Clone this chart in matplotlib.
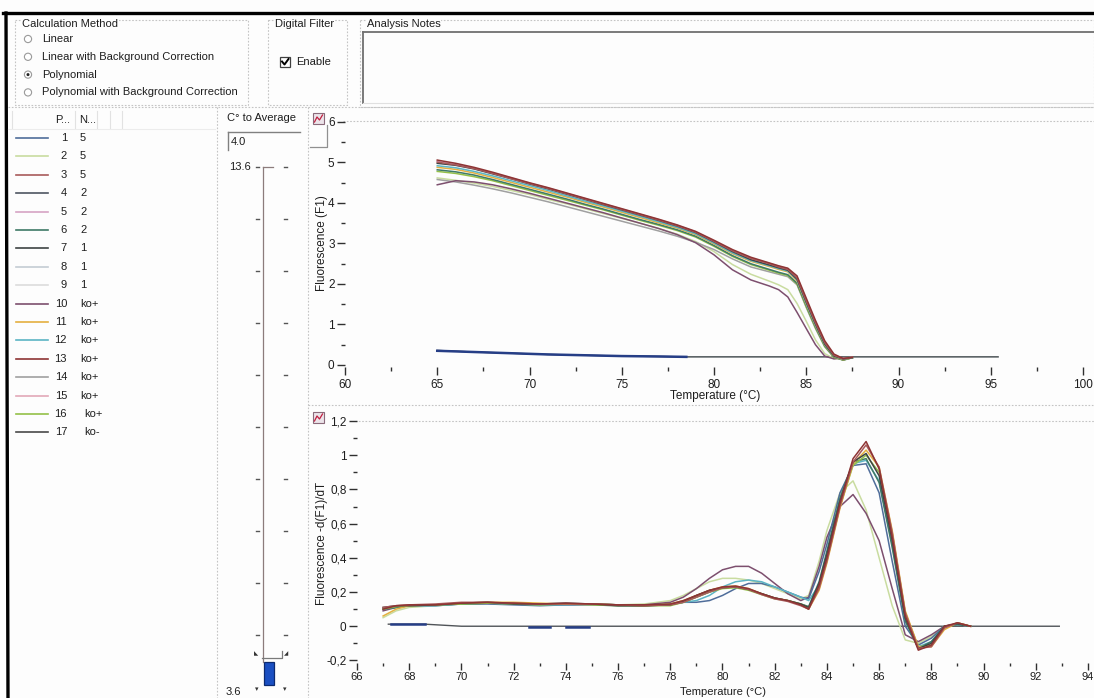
import matplotlib
matplotlib.use("Agg")
import matplotlib.pyplot as plt
from matplotlib.patches import Rectangle, Circle
from matplotlib.ticker import MultipleLocator, FuncFormatter

W, H = 1094, 698

# ---- well list (left panel) ----
WELL_POS = [str(i) for i in range(1, 18)]
WELL_NAMES = ["5", "5", "5", "2", "2", "2", "1", "1", "1",
              "ko+", "ko+", "ko+", "ko+", "ko+", "ko+", "ko+", "ko-"]
WELL_COLORS = ["#4f6d9a", "#c9dca0", "#a85a5a", "#4e5662", "#d6a3c4", "#3f7a66",
               "#3e4444", "#c4ccd4", "#dcdcdc", "#7d4f6e", "#e4b040", "#5cb4c4",
               "#8e3434", "#a0a0a0", "#e2a8b8", "#94c048", "#4a4a4a"]

CALC_METHODS = ["Linear", "Linear with Background Correction", "Polynomial",
                "Polynomial with Background Correction"]

# ---- melt curves, F1 vs temperature ----
TEMP_MELT = [65, 66, 67, 68, 69, 70, 71, 72, 73, 74, 75, 76, 77, 78, 79, 80,
             81, 82, 83, 83.5, 84, 84.5, 85, 85.5, 86, 86.5, 87, 87.5]
melt_13 = [5.06, 4.98, 4.88, 4.76, 4.63, 4.50, 4.38, 4.25, 4.12, 3.99, 3.86, 3.73, 3.60, 3.46,
           3.30, 3.08, 2.85, 2.66, 2.52, 2.45, 2.39, 2.20, 1.65, 1.10, 0.60, 0.27, 0.16, 0.19]
melt_3 = [5.01, 4.94, 4.85, 4.73, 4.60, 4.48, 4.36, 4.23, 4.10, 3.97, 3.84, 3.71, 3.58, 3.44,
          3.28, 3.05, 2.82, 2.63, 2.50, 2.42, 2.36, 2.15, 1.58, 1.04, 0.55, 0.24, 0.15, 0.19]
melt_7 = [4.98, 4.93, 4.84, 4.72, 4.60, 4.47, 4.35, 4.22, 4.09, 3.96, 3.83, 3.70, 3.57, 3.43,
          3.27, 3.04, 2.80, 2.60, 2.47, 2.40, 2.34, 2.12, 1.55, 1.01, 0.52, 0.22, 0.15, 0.18]
melt_5 = [5.03, 4.96, 4.86, 4.74, 4.62, 4.49, 4.37, 4.24, 4.11, 3.98, 3.85, 3.72, 3.59, 3.45,
          3.29, 3.06, 2.83, 2.64, 2.51, 2.44, 2.38, 2.17, 1.61, 1.07, 0.57, 0.25, 0.16, 0.19]
melt_11 = [4.88, 4.83, 4.74, 4.63, 4.51, 4.39, 4.27, 4.15, 4.02, 3.90, 3.77, 3.64, 3.51, 3.38,
           3.22, 2.99, 2.75, 2.56, 2.43, 2.36, 2.30, 2.07, 1.50, 0.97, 0.50, 0.21, 0.13, 0.18]
melt_6 = [4.82, 4.77, 4.69, 4.58, 4.46, 4.34, 4.22, 4.10, 3.97, 3.85, 3.72, 3.59, 3.47, 3.34,
          3.18, 2.95, 2.70, 2.50, 2.36, 2.29, 2.23, 2.02, 1.47, 0.94, 0.48, 0.20, 0.12, 0.18]
melt_16 = [4.78, 4.73, 4.65, 4.55, 4.43, 4.31, 4.19, 4.07, 3.95, 3.83, 3.70, 3.57, 3.45, 3.32,
           3.16, 2.93, 2.68, 2.48, 2.34, 2.27, 2.21, 2.00, 1.44, 0.92, 0.46, 0.19, 0.12, 0.18]
melt_12 = [4.92, 4.87, 4.78, 4.67, 4.55, 4.43, 4.31, 4.18, 4.05, 3.93, 3.80, 3.67, 3.54, 3.40,
           3.24, 3.01, 2.77, 2.58, 2.45, 2.38, 2.32, 2.10, 1.52, 0.99, 0.51, 0.22, 0.14, 0.18]
melt_14 = [4.58, 4.52, 4.44, 4.35, 4.25, 4.14, 4.03, 3.91, 3.79, 3.67, 3.55, 3.43, 3.31, 3.18,
           3.03, 2.85, 2.62, 2.42, 2.30, 2.24, 2.18, 1.98, 1.42, 0.90, 0.45, 0.19, 0.13, 0.18]
melt_10 = [4.45, 4.55, 4.52, 4.45, 4.35, 4.24, 4.12, 4.00, 3.88, 3.76, 3.63, 3.50, 3.37, 3.22,
           3.02, 2.72, 2.35, 2.10, 1.95, 1.86, 1.68, 1.30, 0.90, 0.50, 0.22, 0.15, 0.17, 0.18]
melt_2 = [4.62, 4.56, 4.49, 4.41, 4.31, 4.21, 4.09, 3.98, 3.86, 3.74, 3.62, 3.50, 3.37, 3.23,
          3.05, 2.80, 2.48, 2.24, 2.07, 1.98, 1.86, 1.52, 1.08, 0.62, 0.28, 0.16, 0.18, 0.18]

# negative control / baseline in the melt plot
neg_melt_t = [65, 67, 69, 71, 73, 75, 77, 78.5, 80, 85, 90, 95.4]
neg_melt_f = [0.36, 0.32, 0.29, 0.26, 0.24, 0.22, 0.21, 0.20, 0.20, 0.20, 0.20, 0.20]
blue_melt_t = [65, 67, 69, 71, 73, 75, 77, 78.5]
blue_melt_f = [0.35, 0.32, 0.29, 0.26, 0.24, 0.22, 0.21, 0.20]

# ---- derivative curves, -d(F1)/dT ----
TEMP_DERIV = [67, 67.5, 68, 69, 70, 71, 72, 73, 74, 75, 76, 77, 78, 78.5, 79, 79.5, 80, 80.5,
              81, 81.5, 82, 82.5, 83, 83.3, 83.7, 84, 84.5, 85, 85.5, 86, 86.5, 87, 87.5,
              88, 88.5, 89, 89.5]
deriv_13 = [0.10, 0.12, 0.125, 0.125, 0.135, 0.14, 0.135, 0.13, 0.135, 0.13, 0.125, 0.125, 0.13,
            0.15, 0.18, 0.21, 0.23, 0.235, 0.22, 0.19, 0.165, 0.15, 0.125, 0.10, 0.24, 0.40,
            0.72, 0.98, 1.08, 0.92, 0.52, 0.06, -0.14, -0.11, 0.0, 0.02, 0.0]
deriv_3 = [0.11, 0.12, 0.125, 0.13, 0.14, 0.14, 0.135, 0.13, 0.13, 0.13, 0.125, 0.12, 0.125,
           0.14, 0.17, 0.20, 0.225, 0.23, 0.215, 0.185, 0.16, 0.145, 0.12, 0.10, 0.22, 0.38,
           0.70, 0.96, 1.06, 0.93, 0.55, 0.08, -0.13, -0.12, -0.01, 0.02, 0.0]
deriv_7 = [0.11, 0.12, 0.12, 0.125, 0.135, 0.14, 0.13, 0.13, 0.135, 0.13, 0.12, 0.12, 0.125,
           0.145, 0.18, 0.21, 0.225, 0.23, 0.215, 0.19, 0.165, 0.15, 0.13, 0.11, 0.25, 0.42,
           0.73, 0.96, 1.01, 0.88, 0.50, 0.05, -0.13, -0.10, 0.0, 0.015, 0.0]
deriv_11 = [0.06, 0.10, 0.12, 0.125, 0.135, 0.14, 0.14, 0.135, 0.13, 0.13, 0.125, 0.12, 0.13,
            0.15, 0.18, 0.21, 0.23, 0.235, 0.22, 0.19, 0.165, 0.15, 0.125, 0.10, 0.21, 0.37,
            0.69, 0.95, 1.03, 0.93, 0.56, 0.09, -0.12, -0.12, -0.02, 0.02, 0.0]
deriv_16 = [0.10, 0.115, 0.12, 0.125, 0.13, 0.135, 0.13, 0.125, 0.13, 0.125, 0.12, 0.12, 0.12,
            0.14, 0.17, 0.20, 0.22, 0.225, 0.21, 0.185, 0.16, 0.15, 0.13, 0.11, 0.23, 0.39,
            0.70, 0.94, 1.00, 0.90, 0.54, 0.08, -0.12, -0.11, -0.01, 0.02, 0.0]
deriv_6 = [0.10, 0.11, 0.12, 0.125, 0.13, 0.135, 0.135, 0.13, 0.13, 0.13, 0.125, 0.12, 0.125,
           0.14, 0.17, 0.20, 0.225, 0.23, 0.215, 0.19, 0.165, 0.15, 0.13, 0.115, 0.26, 0.44,
           0.75, 0.96, 0.98, 0.84, 0.46, 0.03, -0.13, -0.09, 0.0, 0.01, 0.0]
deriv_12 = [0.10, 0.115, 0.12, 0.12, 0.13, 0.135, 0.13, 0.125, 0.125, 0.13, 0.125, 0.12, 0.13,
            0.14, 0.15, 0.18, 0.23, 0.26, 0.27, 0.26, 0.23, 0.20, 0.17, 0.15, 0.24, 0.40,
            0.72, 0.95, 0.97, 0.85, 0.48, 0.04, -0.12, -0.09, 0.0, 0.01, 0.0]
deriv_1 = [0.10, 0.11, 0.12, 0.12, 0.13, 0.13, 0.125, 0.12, 0.125, 0.125, 0.12, 0.12, 0.13,
           0.14, 0.14, 0.15, 0.18, 0.22, 0.25, 0.25, 0.23, 0.20, 0.17, 0.16, 0.32, 0.48,
           0.78, 0.94, 0.95, 0.78, 0.38, 0.0, -0.11, -0.07, 0.0, 0.01, 0.0]
deriv_10 = [0.09, 0.11, 0.12, 0.125, 0.13, 0.135, 0.13, 0.125, 0.125, 0.13, 0.125, 0.125, 0.14,
            0.17, 0.22, 0.28, 0.33, 0.35, 0.35, 0.31, 0.25, 0.19, 0.15, 0.17, 0.35, 0.52,
            0.70, 0.77, 0.66, 0.50, 0.22, -0.05, -0.09, -0.05, 0.0, 0.01, 0.0]
deriv_2 = [0.05, 0.09, 0.11, 0.12, 0.13, 0.135, 0.13, 0.125, 0.13, 0.13, 0.125, 0.13, 0.15,
           0.18, 0.22, 0.26, 0.28, 0.28, 0.27, 0.25, 0.22, 0.19, 0.16, 0.18, 0.38, 0.56,
           0.78, 0.85, 0.68, 0.40, 0.12, -0.08, -0.10, -0.06, 0.0, 0.01, 0.0]

neg_deriv_t = [67.2, 68.6, 70, 75, 80, 85, 90, 92.9]
neg_deriv_f = [0.012, 0.012, 0.0, 0.0, 0.0, 0.0, 0.0, 0.0]
navy_seg_start = [67.3, 72.6, 74.0]
navy_seg_end = [68.6, 73.4, 74.9]
navy_seg_level = [0.012, -0.004, -0.004]

MELT_CURVES = [(melt_2, 2), (melt_14, 14), (melt_10, 10), (melt_16, 16), (melt_6, 6),
               (melt_11, 11), (melt_12, 12), (melt_5, 5), (melt_7, 7), (melt_3, 3), (melt_13, 13)]
DERIV_CURVES = [(deriv_2, 2), (deriv_10, 10), (deriv_1, 1), (deriv_12, 12), (deriv_6, 6),
                (deriv_16, 16), (deriv_11, 11), (deriv_7, 7), (deriv_3, 3), (deriv_13, 13)]


def frac(x0, y0, x1, y1):
    return [x0 / W, 1 - y1 / H, (x1 - x0) / W, (y1 - y0) / H]


plt.rcParams["font.family"] = ["Liberation Sans", "DejaVu Sans"]
TXT = "#1e1e1e"
DOT = "#c4c4c4"

fig = plt.figure(figsize=(W / 100, H / 100), dpi=100)
fig.patch.set_facecolor("#fdfdfd")

# pixel-coordinate layer for the window chrome
ui = fig.add_axes([0, 0, 1, 1], zorder=0)
ui.set_xlim(0, W)
ui.set_ylim(H, 0)
ui.axis("off")


def dotted(xs, ys):
    ui.plot(xs, ys, color=DOT, lw=0.8, ls=(0, (1.5, 1.5)))


# black frame of the screenshot
ui.plot([3, W], [13, 13], color="black", lw=2.4)
ui.plot([6, 8], [13, H], color="black", lw=2.4)

# -------------------------
# Calculation Method group
# -------------------------
ui.add_patch(Rectangle((15, 20), 233, 85, fill=False, ec=DOT, lw=0.8, ls=(0, (1.5, 1.5))))
ui.text(22, 24, "Calculation Method", fontsize=8, color=TXT, va="center",
        bbox=dict(fc="#fdfdfd", ec="none", pad=0.5))
for i, name in enumerate(CALC_METHODS):
    ry = 39 + i * 17.8
    ui.add_patch(Circle((28, ry), 3.6, fc="white", ec="#9a9a9a", lw=0.8))
    if name == "Polynomial":
        ui.add_patch(Circle((28, ry), 1.5, fc="#222222", ec="none"))
    ui.text(42, ry, name, fontsize=8, color=TXT, va="center")

# Digital Filter group
ui.add_patch(Rectangle((268, 20), 79, 85, fill=False, ec=DOT, lw=0.8, ls=(0, (1.5, 1.5))))
ui.text(305, 24, "Digital Filter", fontsize=8, color=TXT, va="center", ha="center",
        bbox=dict(fc="#fdfdfd", ec="none", pad=0.5))
ui.add_patch(Rectangle((280, 57), 10, 10, fc="white", ec="#404040", lw=0.9))
ui.plot([282, 284.5, 288.5], [61.5, 64.5, 59], color="black", lw=1.4)
ui.text(296, 62, "Enable", fontsize=8, color=TXT, va="center")

# Analysis Notes group
ui.add_patch(Rectangle((360, 20), W - 360, 87, fill=False, ec=DOT, lw=0.8, ls=(0, (1.5, 1.5))))
ui.text(367, 24, "Analysis Notes", fontsize=8, color=TXT, va="center",
        bbox=dict(fc="#fdfdfd", ec="none", pad=0.5))
ui.plot([363, W], [32, 32], color="#707070", lw=1.3)
ui.plot([363, 363], [32, 103], color="#707070", lw=1.3)
ui.plot([363, W], [103, 103], color="#e0e0e0", lw=0.8)

# panel separators
dotted([8, W], [107, 107])
dotted([217, 217], [107, H])
dotted([308, 308], [107, H])
dotted([308, W], [405, 405])
dotted([343, W], [121, 121])
dotted([355, W], [421, 421])

# -------------------------
# Well list
# -------------------------
ui.text(55, 120, "P...", fontsize=8, color=TXT, va="center")
ui.text(79, 120, "N...", fontsize=8, color=TXT, va="center")
for sx in [12, 75, 97, 110, 122]:
    ui.plot([sx, sx], [111, 128], color="#e2e2e2", lw=0.8)
ui.plot([8, 215], [129, 129], color="#ececec", lw=0.8)
for i in range(len(WELL_POS)):
    ry = 138 + i * 18.4
    ui.plot([16, 48], [ry, ry], color=WELL_COLORS[i], lw=1.2)
    ui.text(67, ry, WELL_POS[i], fontsize=8, color=TXT, va="center", ha="right")
    ui.text(84 if i >= 15 else 80, ry, WELL_NAMES[i], fontsize=8, color=TXT, va="center")

# -------------------------
# C° to Average slider
# -------------------------
ui.text(227, 118, "C° to Average", fontsize=8, color=TXT, va="center")
ui.plot([228, 300], [132, 132], color="#808080", lw=1.0)
ui.plot([228, 228], [132, 150], color="#808080", lw=1.0)
ui.text(231, 142, "4.0", fontsize=8, color=TXT, va="center")
ui.text(251, 167, "13.6", fontsize=8, color=TXT, va="center", ha="right")
ui.plot([263, 263], [167, 662], color="#8c7c7c", lw=0.9)
ui.plot([263, 273], [167, 167], color="#8c7c7c", lw=0.9)
for k in range(10):
    ty = 167 + 52 * k
    ui.plot([255.5, 258.5], [ty, ty], color="#555555", lw=1.0)
    ui.plot([283.5, 286.5], [ty, ty], color="#555555", lw=1.0)
ui.add_patch(Rectangle((263.5, 662), 10, 23, fc="#1a4fc2", ec="#0c2a70", lw=0.9))
ui.plot([262, 282, 282], [658, 658, 651], color="#7a7a7a", lw=0.9)
ui.text(256, 654, "◣", fontsize=4, color="#333333", va="center", ha="center",
        family=["DejaVu Sans"])
ui.text(286, 654, "◢", fontsize=4, color="#333333", va="center", ha="center",
        family=["DejaVu Sans"])
ui.text(257, 689, "▾", fontsize=5, color="#333333", va="center", ha="center",
        family=["DejaVu Sans"])
ui.text(285, 689, "▾", fontsize=5, color="#333333", va="center", ha="center",
        family=["DejaVu Sans"])
ui.text(233, 692, "3.6", fontsize=8, color=TXT, va="center", ha="center")

# small chart icons in the plot corners
for iy in [113, 412]:
    ui.add_patch(Rectangle((313, iy), 11, 11, fc="#ece4ea", ec="#8a6a7a", lw=0.8))
    ui.plot([314.5, 317, 319.5, 322.5], [iy + 9, iy + 4, iy + 7, iy + 2], color="#c02040", lw=0.9)
ui.plot([327, 327, 310], [125, 147, 147], color="#909090", lw=0.9)


def style_axes(ax):
    ax.set_facecolor("none")
    for s in ax.spines.values():
        s.set_visible(False)
    ax.tick_params(axis="y", which="major", length=6, width=1.0, pad=1.5,
                   labelsize=8.5, colors="#303030", labelcolor=TXT)
    ax.tick_params(axis="y", which="minor", length=3, width=1.0, colors="#303030")
    ax.tick_params(axis="x", which="major", length=6, width=1.0, pad=3,
                   labelsize=8.5, colors="#303030", labelcolor=TXT)
    ax.tick_params(axis="x", which="minor", length=3, width=1.0, colors="#303030")


# -------------------------
# Melt curve plot
# -------------------------
ax1 = fig.add_axes(frac(345, 122, 1083, 367), zorder=1)
style_axes(ax1)
ax1.plot(neg_melt_t, neg_melt_f, color="#3c4448", lw=1.0)
ax1.plot(blue_melt_t, blue_melt_f, color="#263e86", lw=1.8)
for vals, idx in MELT_CURVES:
    ax1.plot(TEMP_MELT, vals, color=WELL_COLORS[idx - 1], lw=1.1)
ax1.set_xlim(60, 100)
ax1.set_ylim(-0.05, 6)
ax1.xaxis.set_major_locator(MultipleLocator(5))
ax1.xaxis.set_minor_locator(MultipleLocator(2.5))
ax1.yaxis.set_major_locator(MultipleLocator(1))
ax1.yaxis.set_minor_locator(MultipleLocator(0.5))
ax1.yaxis.set_major_formatter(FuncFormatter(lambda v, p: "%g" % round(v, 2)))
ax1.set_xlabel("Temperature (°C)", fontsize=8.5, color=TXT)
ax1.xaxis.set_label_coords(0.501, -0.095)
ax1.set_ylabel("Fluorescence (F1)", fontsize=8.5, color=TXT)
ax1.yaxis.set_label_coords(-0.023, 0.506)

# -------------------------
# Derivative plot
# -------------------------
ax2 = fig.add_axes(frac(357, 421, 1088, 663), zorder=1)
style_axes(ax2)
ax2.tick_params(axis="x", which="major", length=5, pad=1.5, labelsize=8)
ax2.tick_params(axis="x", which="minor", length=2.5)
ax2.plot(neg_deriv_t, neg_deriv_f, color="#505458", lw=1.0)
for t0, t1, lv in zip(navy_seg_start, navy_seg_end, navy_seg_level):
    ax2.plot([t0, t1], [lv, lv], color="#263e86", lw=1.8)
for vals, idx in DERIV_CURVES:
    ax2.plot(TEMP_DERIV, vals, color=WELL_COLORS[idx - 1], lw=1.1)
ax2.set_xlim(66, 94)
ax2.set_ylim(-0.215, 1.2)
ax2.xaxis.set_major_locator(MultipleLocator(2))
ax2.xaxis.set_minor_locator(MultipleLocator(1))
ax2.yaxis.set_major_locator(MultipleLocator(0.2))
ax2.yaxis.set_minor_locator(MultipleLocator(0.1))
ax2.yaxis.set_major_formatter(FuncFormatter(lambda v, p: ("%g" % round(v, 2)).replace(".", ",")))
ax2.set_xlabel("Temperature (°C)", fontsize=8, color=TXT)
ax2.xaxis.set_label_coords(0.5, -0.099)
ax2.set_ylabel("Fluorescence -d(F1)/dT", fontsize=8.5, color=TXT)
ax2.yaxis.set_label_coords(-0.0397, 0.496)

fig.savefig("out.png", dpi=100, facecolor=fig.get_facecolor())
